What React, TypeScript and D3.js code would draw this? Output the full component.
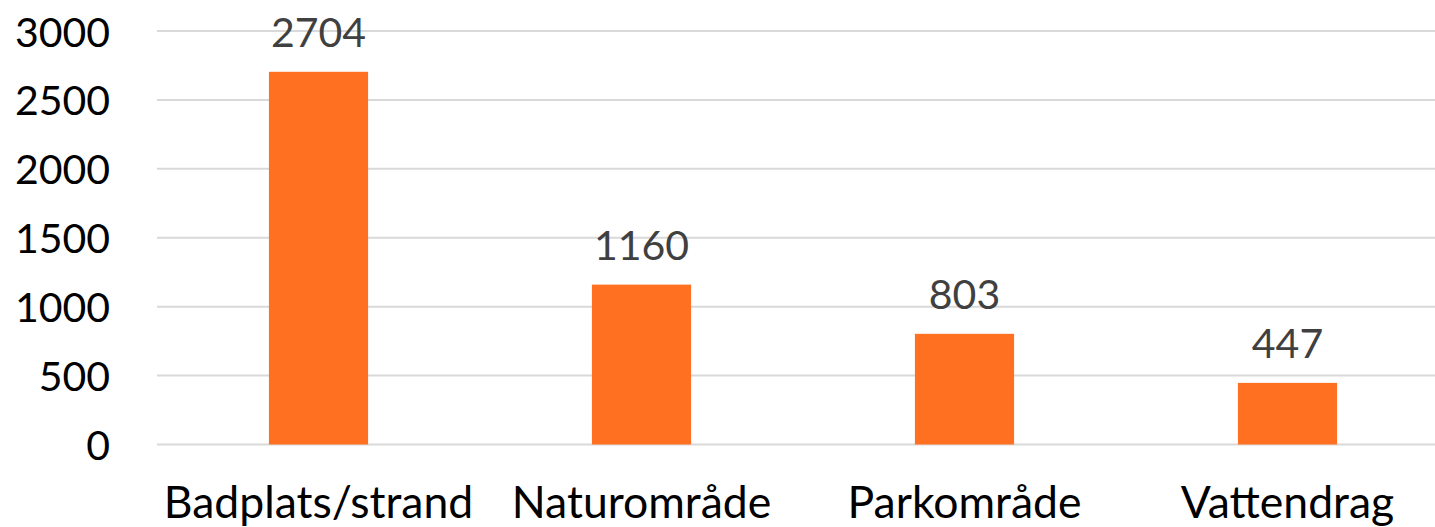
import React from "react";
import * as d3 from "d3";

const categories = ["Badplats/strand", "Naturområde", "Parkområde", "Vattendrag"];
const values = [2704, 1160, 803, 447];
const yTicks = [0, 500, 1000, 1500, 2000, 2500, 3000];

const W = 1435;
const H = 527;
const FONT = "Lato, 'Open Sans', sans-serif";

export default function App() {
  const x = d3
    .scaleBand<string>()
    .domain(categories)
    .range([157, 1449])
    .paddingInner(0.693)
    .paddingOuter(0.3465);
  const y = d3.scaleLinear().domain([0, 3000]).range([444.5, 31]);

  return (
    <div style={{ position: "fixed", left: 0, top: 0, width: W, height: H, background: "#fff" }}>
      <svg width={W} height={H} style={{ display: "block" }}>
        <rect width={W} height={H} fill="#fff" />
        {yTicks.map((t) => (
          <g key={t}>
            <line x1={157} x2={W} y1={y(t)} y2={y(t)} stroke="#d9d9d9" strokeWidth={2} />
            <text
              x={110}
              y={y(t)}
              textAnchor="end"
              dominantBaseline="central"
              fontFamily={FONT}
              fontSize={41}
              fill="#000"
            >
              {t}
            </text>
          </g>
        ))}
        {categories.map((c, i) => {
          const bx = x(c)!;
          const bw = x.bandwidth();
          const v = values[i];
          return (
            <g key={c}>
              <rect x={bx} y={y(v)} width={bw} height={y(0) - y(v)} fill="#FF7121" />
              <text
                x={bx + bw / 2}
                y={y(v) - 25}
                textAnchor="middle"
                fontFamily={FONT}
                fontSize={41}
                fill="#404040"
              >
                {v}
              </text>
              <text
                x={bx + bw / 2}
                y={518}
                textAnchor="middle"
                fontFamily={FONT}
                fontSize={44.5}
                fill="#000"
              >
                {c}
              </text>
            </g>
          );
        })}
      </svg>
    </div>
  );
}
